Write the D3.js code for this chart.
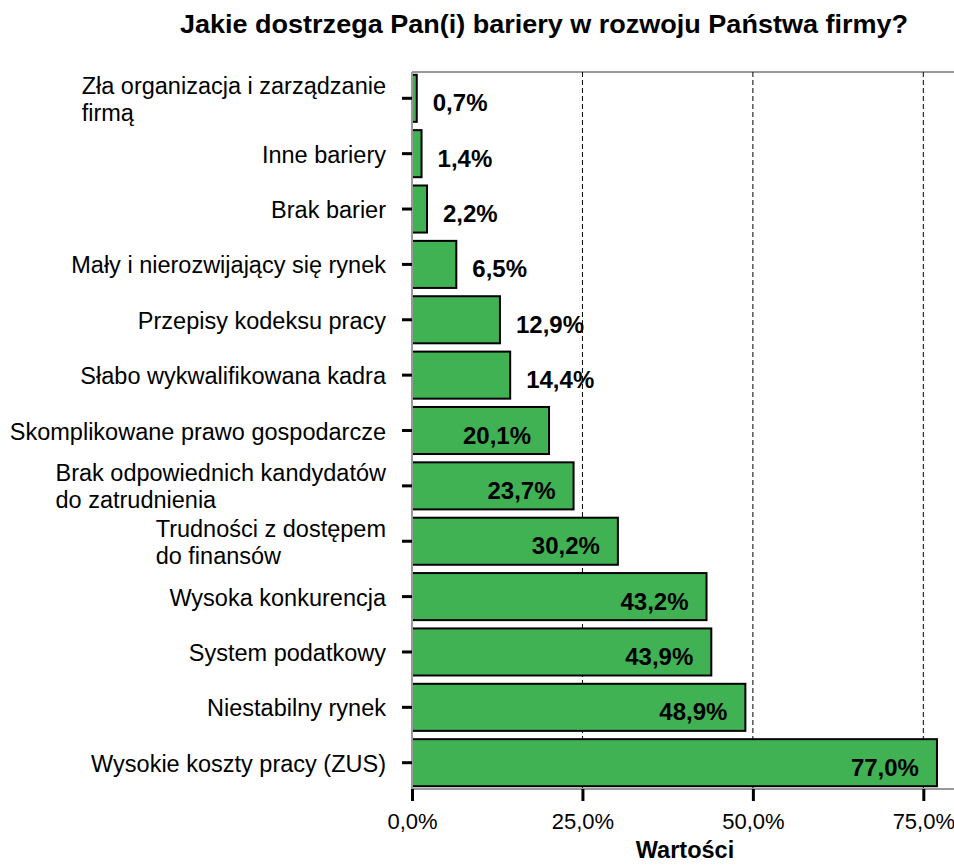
<!DOCTYPE html>
<html>
<head>
<meta charset="utf-8">
<script src="https://cdn.jsdelivr.net/npm/d3@7"></script>
<style>
  body { margin: 0; background: #fff; }
  text { font-family: "Liberation Sans", Arial, sans-serif; }
</style>
</head>
<body>
<div id="chart"></div>
<script>
// categories, top to bottom
const categories = [
  "Zła organizacja i zarządzanie\nfirmą",
  "Inne bariery",
  "Brak barier",
  "Mały i nierozwijający się rynek",
  "Przepisy kodeksu pracy",
  "Słabo wykwalifikowana kadra",
  "Skomplikowane prawo gospodarcze",
  "Brak odpowiednich kandydatów\ndo zatrudnienia",
  "Trudności z dostępem\ndo finansów",
  "Wysoka konkurencja",
  "System podatkowy",
  "Niestabilny rynek",
  "Wysokie koszty pracy (ZUS)"
];
const values = [0.7, 1.4, 2.2, 6.5, 12.9, 14.4, 20.1, 23.7, 30.2, 43.2, 43.9, 48.9, 77.0];
const tickValues = [0, 25, 50, 75];
const title = "Jakie dostrzega Pan(i) bariery w rozwoju Państwa firmy?";
const xTitle = "Wartości";

const data = categories.map((c, i) => ({cat: c, value: values[i]}));

const width = 954, height = 865;
const margin = {top: 72, right: 0, bottom: 76, left: 412};

const svg = d3.select("#chart")
  .append("svg")
    .attr("width", width)
    .attr("height", height);

const fmt = v => d3.format(".1f")(v).replace(".", ",") + "%";

const x = d3.scaleLinear()
  .domain([0, 79.5])
  .range([margin.left, width - margin.right]);

const y = d3.scaleBand()
  .domain(categories)
  .range([margin.top, height - margin.bottom])
  .paddingInner(0.15)
  .paddingOuter(0.05);

// title
svg.append("text")
  .attr("x", 544)
  .attr("y", 33)
  .attr("text-anchor", "middle")
  .style("font-size", "26.5px")
  .style("font-weight", "bold")
  .attr("textLength", 728)
  .attr("lengthAdjust", "spacingAndGlyphs")
  .text(title);

// top frame line
svg.append("line")
  .attr("x1", margin.left).attr("x2", width)
  .attr("y1", margin.top).attr("y2", margin.top)
  .attr("stroke", "#999").attr("stroke-width", 2);

// dashed gridlines
svg.append("g")
  .selectAll("line")
  .data(tickValues.filter(d => d > 0))
  .join("line")
    .attr("x1", d => x(d)).attr("x2", d => x(d))
    .attr("y1", margin.top).attr("y2", height - margin.bottom)
    .attr("stroke", "#000")
    .attr("stroke-width", 1)
    .attr("stroke-dasharray", "5,3");

// bars
svg.append("g")
  .selectAll("rect")
  .data(data)
  .join("rect")
    .attr("x", x(0))
    .attr("y", d => y(d.cat))
    .attr("width", d => x(d.value) - x(0))
    .attr("height", y.bandwidth())
    .attr("fill", "#41b254")
    .attr("stroke", "#000")
    .attr("stroke-width", 2);

// value labels: outside for short bars, inside the end for longer ones
svg.append("g")
  .selectAll("text")
  .data(data)
  .join("text")
    .attr("x", d => d.value < 15 ? x(d.value) + 16 : x(d.value) - 18)
    .attr("y", d => y(d.cat) + y.bandwidth() / 2 + 13)
    .attr("text-anchor", d => d.value < 15 ? "start" : "end")
    .style("font-size", "24px")
    .style("font-weight", "bold")
    .text(d => fmt(d.value));

// left axis line
svg.append("line")
  .attr("x1", margin.left).attr("x2", margin.left)
  .attr("y1", margin.top).attr("y2", height - margin.bottom)
  .attr("stroke", "#999").attr("stroke-width", 2);

// y ticks
svg.append("g")
  .selectAll("line")
  .data(categories)
  .join("line")
    .attr("x1", margin.left - 10).attr("x2", margin.left)
    .attr("y1", d => y(d) + y.bandwidth() / 2)
    .attr("y2", d => y(d) + y.bandwidth() / 2)
    .attr("stroke", "#000").attr("stroke-width", 3);

// y labels (multi-line blocks left-aligned, block right edge fixed)
const labelRight = 386;
const lineH = 27;
const yLabels = svg.append("g")
  .selectAll("text")
  .data(categories)
  .join("text")
    .style("font-size", "23.5px");

yLabels.each(function(d) {
  const lines = d.split("\n");
  const t = d3.select(this);
  const cy = y(d) + y.bandwidth() / 2;
  lines.forEach((ln, i) => {
    t.append("tspan")
      .attr("y", cy + (i - (lines.length - 1) / 2) * lineH + 9)
      .text(ln);
  });
  let maxW = 0;
  t.selectAll("tspan").each(function() {
    maxW = Math.max(maxW, this.getComputedTextLength());
  });
  t.selectAll("tspan").attr("x", labelRight - maxW);
});

// bottom axis
const xAxis = d3.axisBottom(x)
  .tickValues(tickValues)
  .tickFormat(fmt)
  .tickSizeOuter(0)
  .tickSize(12)
  .tickPadding(12);

const gx = svg.append("g")
  .attr("transform", `translate(0,${height - margin.bottom})`)
  .call(xAxis);
gx.select(".domain").attr("stroke", "#999").attr("stroke-width", 2)
  .attr("d", `M${margin.left},0H${width}`);
gx.selectAll(".tick line").attr("stroke", "#000").attr("stroke-width", 3);
gx.selectAll(".tick text")
  .style("font-size", "22px")
  .style("font-family", "Liberation Sans, Arial, sans-serif")
  .attr("fill", "#000");

svg.append("text")
  .attr("x", 685)
  .attr("y", 858)
  .attr("text-anchor", "middle")
  .style("font-size", "23.5px")
  .style("font-weight", "bold")
  .text(xTitle);
</script>
</body>
</html>
